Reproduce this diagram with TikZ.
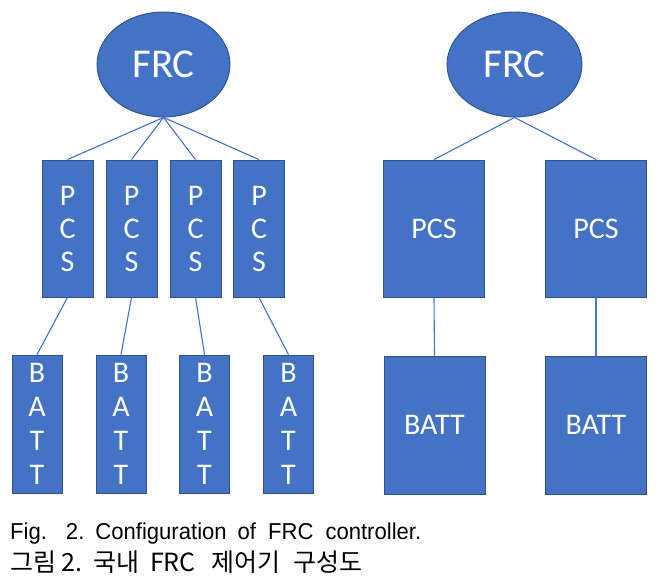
\documentclass[tikz,border=0pt]{standalone}
\usepackage{fontspec}
\usepackage{tikz}
\usetikzlibrary{shapes.geometric}
\newfontfamily\boxfont{Carlito}
\newfontfamily\capfont[FakeStretch=0.96]{Liberation Sans}
\newfontfamily\krfont{Noto Sans CJK KR}
\definecolor{ofblue}{HTML}{4472C4}
\definecolor{ofedge}{HTML}{2F528F}

\begin{document}
\begin{tikzpicture}[
      x=1pt, y=-1pt,
      blok/.style={draw=ofedge, line width=0.9pt, fill=ofblue, text=white,
      inner sep=0pt, align=center, font={\boxfont\fontsize{30}{33}\selectfont}},
      ctrl/.style={blok, ellipse, font={\boxfont\fontsize{41}{45}\selectfont}},
      sempit/.style={blok, minimum width=51pt, minimum height=137pt},
      batsempit/.style={blok, minimum width=50pt, minimum height=138pt,
      font={\boxfont\fontsize{30}{34}\selectfont}},
      lebar/.style={blok, minimum width=101pt, minimum height=137pt},
      garis/.style={draw=ofblue, line width=1.1pt},
      ket/.style={anchor=base west, inner sep=0pt, text=black}
    ]
    \useasboundingbox (0,0) rectangle (665,587);

    % kiri: satu FRC, empat PCS, empat BATT
    \node[ctrl, minimum width=133pt, minimum height=105pt] (frcL) at (163.5,64.5) {FRC};
    \node[sempit] (pcsL1) at (67.5,228.5) {P\\C\\S};
    \node[sempit] (pcsL2) at (131.5,228.5) {P\\C\\S};
    \node[sempit] (pcsL3) at (195.5,228.5) {P\\C\\S};
    \node[sempit] (pcsL4) at (259,228.5) {P\\C\\S};
    \node[batsempit] (battL1) at (37,424) {B\\A\\T\\T};
    \node[batsempit] (battL2) at (121,424) {B\\A\\T\\T};
    \node[batsempit] (battL3) at (204.5,424) {B\\A\\T\\T};
    \node[batsempit] (battL4) at (288.5,424) {B\\A\\T\\T};

    % kanan: satu FRC, dua PCS, dua BATT
    \node[ctrl, minimum width=135pt, minimum height=105pt] (frcR) at (514.5,64.5) {FRC};
    \node[lebar] (pcsR1) at (434,228.5) {PCS};
    \node[lebar] (pcsR2) at (596,228.5) {PCS};
    \node[lebar, minimum height=138pt] (battR1) at (434.5,425) {BATT};
    \node[lebar, minimum height=138pt] (battR2) at (596,425) {BATT};

    \draw[garis] (frcL.south) -- (pcsL1.north);
    \draw[garis] (frcL.south) -- (pcsL2.north);
    \draw[garis] (frcL.south) -- (pcsL3.north);
    \draw[garis] (frcL.south) -- (pcsL4.north);
    \draw[garis] (pcsL1.south) -- (battL1.north);
    \draw[garis] (pcsL2.south) -- (battL2.north);
    \draw[garis] (pcsL3.south) -- (battL3.north);
    \draw[garis] (pcsL4.south) -- (battL4.north);
    \draw[garis] (frcR.south) -- (pcsR1.north);
    \draw[garis] (frcR.south) -- (pcsR2.north);
    \draw[garis] (pcsR1.south) -- (battR1.north);
    \draw[garis] (pcsR2.south) -- (battR2.north);

    % keterangan gambar
    \node[ket, font={\capfont\fontsize{23}{26}\selectfont}] (capEn) at (10,539)
    {Fig.\hspace{19pt}2.\hspace{11pt}Configuration\hspace{11pt}of\hspace{12pt}FRC\hspace{12pt}controller.};
    \node[ket, font={\krfont\fontsize{25}{28}\selectfont}] (capKr) at (10,571)
    {그림\hspace{5pt}2.\hspace{11pt}국내\hspace{11pt}FRC\hspace{16pt}제어기\hspace{13pt}구성도};
  \end{tikzpicture}
\end{document}
